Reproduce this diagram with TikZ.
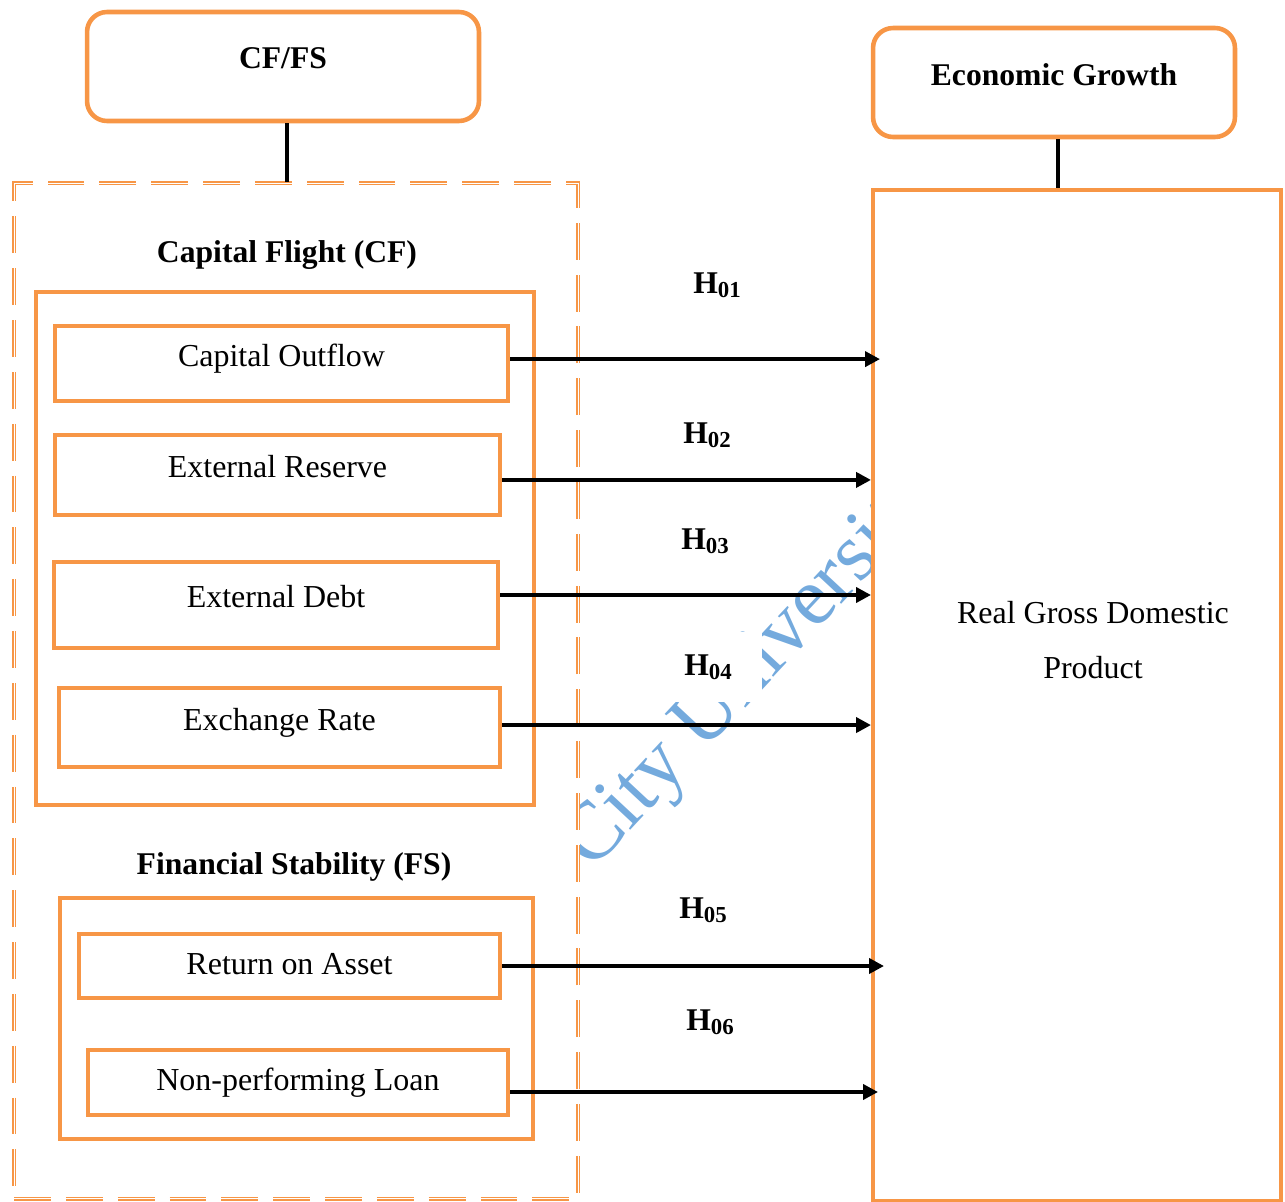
\documentclass[tikz,border=0pt]{standalone}
\usepackage{fontspec}
\setmainfont{Liberation Serif}
\usetikzlibrary{arrows.meta}
\definecolor{boxorange}{RGB}{247,150,70}
\definecolor{wmblue}{RGB}{116,170,221}
\newcommand{\hyp}[1]{H\raisebox{-2.3pt}{\fontsize{13}{13}\selectfont #1}}

\begin{document}
\begin{tikzpicture}[x=0.02cm,y=-0.02cm,
    rbox/.style={draw=boxorange, line width=2.6pt, rounded corners=0.4cm},
    ibox/.style={draw=boxorange, line width=2.4pt, font=\fontsize{18.2}{21}\selectfont, text height=0.69em, text depth=0.38em},
    gbox/.style={draw=boxorange, line width=2.3pt},
    dbox/.style={draw=boxorange, double=white, line width=0.9pt, double distance=0.5pt, dash pattern=on 21pt off 8.5pt},
    hd/.style={font=\fontsize{18}{22}\selectfont\bfseries},
    hlab/.style={font=\fontsize{18}{22}\selectfont\bfseries, fill=white, minimum width=2.16cm, minimum height=1.4cm},
    wm/.style={text=wmblue, font=\fontsize{47}{47}\selectfont, inner sep=0pt, anchor=base west, rotate=47},
    arr/.style={line width=2.3pt, -{Triangle[length=0.3cm, width=0.3cm]}},
    link/.style={line width=2.8pt}]

    \useasboundingbox (0,0) rectangle (1285,1201);

    % Watermark
    \begin{scope}
        \clip (580,0) rectangle (873,1201);
        \node[wm] (wmark) at (592,872) {City University};
    \end{scope}

    % Left block
    \node[rbox, minimum width=7.84cm, minimum height=2.18cm, label={[hd, yshift=0.17cm]center:CF/FS}] (cffs) at (283,66.5) {};
    \node[dbox, minimum width=11.28cm, minimum height=20.32cm] (grp) at (296,691) {};
    \coordinate (cffsfoot) at ([xshift=0.08cm]cffs.south);
    \draw[link] (cffsfoot) -- (cffsfoot |- grp.north);

    \node[hd] (cfhead) at (287,255) {Capital Flight (CF)};
    \node[gbox, minimum width=9.96cm, minimum height=10.26cm] (cfgrp) at (285,548.5) {};
    \node[ibox, minimum width=9.06cm, minimum height=1.5cm] (co) at (281.5,363.5) {Capital Outflow};
    \node[ibox, minimum width=8.9cm, minimum height=1.6cm] (er) at (277.5,475) {External Reserve};
    \node[ibox, minimum width=8.88cm, minimum height=1.72cm] (ed) at (276,605) {External Debt};
    \node[ibox, minimum width=8.82cm, minimum height=1.58cm] (xr) at (279.5,727.5) {Exchange Rate};

    \node[hd] (fshead) at (294,867) {Financial Stability (FS)};
    \node[gbox, minimum width=9.46cm, minimum height=4.82cm] (fsgrp) at (296.5,1018.5) {};
    \node[ibox, text height=0.95em, text depth=0pt, minimum width=8.42cm, minimum height=1.28cm] (roa) at (289.5,966) {Return on Asset};
    \node[ibox, text height=0.95em, text depth=0pt, minimum width=8.4cm, minimum height=1.3cm] (npl) at (298,1082.5) {Non-performing Loan};

    % Right block
    \node[rbox, minimum width=7.24cm, minimum height=2.18cm, label={[hd, yshift=0.15cm]center:Economic Growth}] (eg) at (1054,82.5) {};
    \node[gbox, minimum width=8.16cm, minimum height=20.22cm,
          label={[font=\fontsize{18.2}{31.7}\selectfont, align=center, xshift=0.32cm, yshift=1.11cm]center:Real Gross Domestic\\Product}] (rgdp) at (1077,695.5) {};
    \coordinate (egfoot) at ([xshift=0.08cm]eg.south);
    \draw[link] (egfoot) -- (egfoot |- rgdp.north);

    % Hypotheses
    \foreach \src/\hn/\lx/\ly/\dy/\dx in {co/01/717/285/2.5/9, er/02/707/435/-2.8/0, ed/03/705/541/5.7/0,
                                         xr/04/708/667/1.4/0, roa/05/703/910/0/13, npl/06/710/1022/-5.4/7} {
        \node[hlab] (h\hn) at (\lx,\ly) {\hyp{\hn}};
        \coordinate (s\hn) at ([yshift=\dy pt]\src.east);
        \draw[arr] (s\hn) -- ([xshift=\dx*0.02cm]rgdp.west |- s\hn);
    }
\end{tikzpicture}
\end{document}
